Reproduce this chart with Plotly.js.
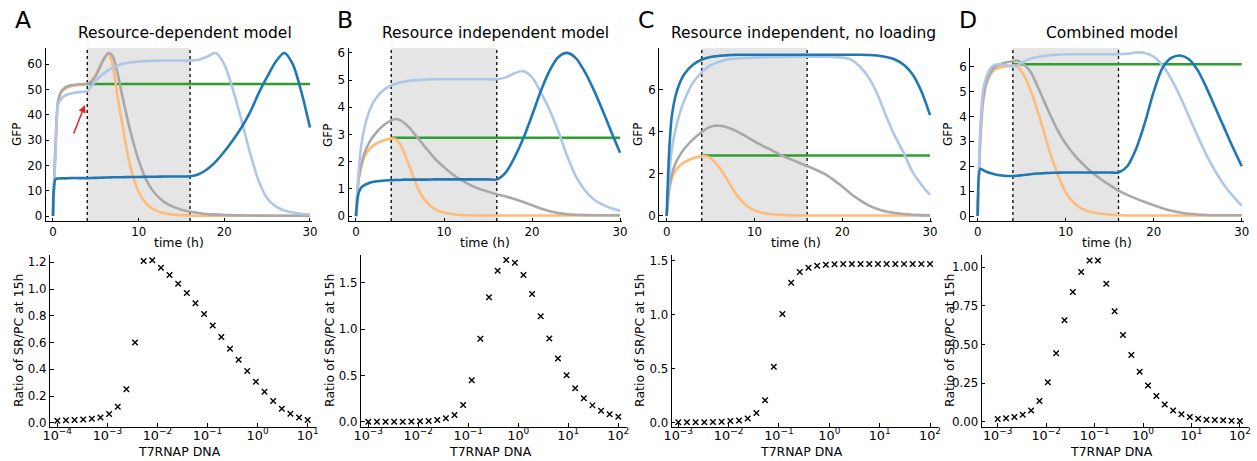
<!DOCTYPE html>
<html><head><meta charset="utf-8">
<script src="https://cdn.plot.ly/plotly-3.0.1.min.js"></script>
<style>html,body{margin:0;padding:0;background:#fff}#chart{width:1257px;height:461px}</style>
</head><body><div id="chart"></div>
<script>
// ---------- time-course data (hours) ----------
const t = [0,0.3,0.6,1,1.5,2,3,4,4.5,5,5.5,6,6.5,7,7.5,8,9,10,11,12,13,14,15,16,17,18,19,20,21,22,23,24,25,26,27,28,29,30];
const tGreen = [4, 30];

// Panel A: Resource-dependent model
const A_orange = [0,28,45,49,50.5,51.2,51.8,52.1,53.5,56,59.5,62.3,64.3,59,48,38,20,9.5,4.5,2.2,1.1,0.6,0.35,0.2,0.1,0.1,0.1,0.1,0.1,0.1,0.1,0.1,0.1,0.1,0.1,0.1,0.1,0.1];
const A_grey = [0,28,45.5,49.5,51,51.6,52.1,52.3,53.3,55.5,59,62.5,64.5,63,57,49,34,22,13.5,8.5,5.5,3.7,2.5,1.7,1.2,0.8,0.6,0.4,0.32,0.25,0.2,0.15,0.12,0.1,0.1,0.1,0.1,0.1];
const A_light = [0,25,44,46.5,47.8,48.4,49,49.3,51.5,53.5,55.2,56.6,57.8,58.7,59.4,60,60.7,61.1,61.3,61.4,61.5,61.5,61.5,61.5,61.8,63,64.5,60,50,38,25,14,7,3.8,2.2,1.4,0.9,0.6];
const A_dark = [0,14.6,14.8,14.9,14.9,15,15,15,15.05,15.1,15.15,15.2,15.25,15.3,15.3,15.35,15.4,15.45,15.5,15.55,15.6,15.6,15.65,15.7,16.5,18.5,21.5,25.5,30,35,41,48.5,55,61,64.5,60,49,35];
const A_green = [52.2, 52.2];

// Panel B: Resource independent model
const B_orange = [0,1.3,1.8,2.2,2.45,2.6,2.77,2.85,2.83,2.65,2.3,1.9,1.45,1.05,0.75,0.52,0.25,0.13,0.07,0.04,0.03,0.02,0.02,0.02,0.02,0.02,0.02,0.02,0.02,0.02,0.02,0.02,0.02,0.02,0.02,0.02,0.02,0.02];
const B_grey = [0,1.4,1.9,2.35,2.7,2.95,3.3,3.52,3.57,3.53,3.42,3.27,3.08,2.88,2.68,2.48,2.1,1.8,1.53,1.32,1.14,1.0,0.9,0.8,0.72,0.63,0.52,0.4,0.28,0.18,0.11,0.07,0.05,0.04,0.03,0.03,0.03,0.03];
const B_light = [0,1.6,2.6,3.3,3.85,4.2,4.6,4.8,4.86,4.91,4.94,4.97,4.99,5.0,5.01,5.02,5.03,5.03,5.03,5.03,5.03,5.03,5.03,5.03,5.1,5.25,5.33,5.1,4.55,3.9,3.1,2.2,1.45,0.95,0.62,0.42,0.29,0.2];
const B_dark = [0,0.85,1.05,1.15,1.22,1.26,1.3,1.32,1.33,1.33,1.34,1.34,1.34,1.34,1.34,1.34,1.35,1.35,1.35,1.35,1.35,1.35,1.35,1.35,1.6,2.15,2.85,3.7,4.6,5.35,5.85,6.0,5.8,5.3,4.65,3.9,3.1,2.33];
const B_green = [2.88, 2.88];

// Panel C: Resource independent, no loading
const C_orange = [0,1.3,1.8,2.15,2.4,2.55,2.75,2.85,2.84,2.75,2.55,2.3,2.0,1.65,1.3,0.98,0.52,0.27,0.14,0.08,0.05,0.03,0.02,0.02,0.02,0.02,0.02,0.02,0.02,0.02,0.02,0.02,0.02,0.02,0.02,0.02,0.02,0.02];
const C_grey = [0,1.3,2.0,2.5,2.9,3.2,3.65,4.0,4.15,4.25,4.3,4.3,4.27,4.2,4.12,4.03,3.8,3.55,3.33,3.12,2.9,2.72,2.55,2.38,2.2,2.0,1.72,1.4,1.05,0.75,0.5,0.33,0.21,0.14,0.09,0.06,0.04,0.03];
const C_light = [0,2.0,3.2,4.1,4.9,5.5,6.35,6.85,7.03,7.17,7.27,7.35,7.4,7.45,7.48,7.5,7.53,7.55,7.56,7.57,7.57,7.58,7.58,7.58,7.58,7.58,7.57,7.55,7.45,7.12,6.6,5.8,4.75,3.8,3.0,2.1,1.5,1.0];
const C_dark = [0,3.2,4.8,5.7,6.35,6.75,7.2,7.45,7.52,7.57,7.6,7.63,7.64,7.66,7.67,7.68,7.68,7.68,7.68,7.68,7.68,7.68,7.68,7.68,7.68,7.68,7.68,7.68,7.68,7.68,7.67,7.64,7.57,7.45,7.2,6.75,5.95,4.8];
const C_green = [2.88, 2.88];

// Panel D: Combined model
const D_orange = [0,3.0,4.5,5.3,5.7,5.9,6.0,6.05,6.0,5.8,5.5,5.06,4.55,4.0,3.4,2.8,1.75,0.95,0.5,0.27,0.15,0.09,0.06,0.04,0.02,0.02,0.02,0.02,0.02,0.02,0.02,0.02,0.02,0.02,0.02,0.02,0.02,0.02];
const D_grey = [0,3.2,4.7,5.4,5.8,6.0,6.15,6.22,6.25,6.15,6.0,5.8,5.45,5.05,4.65,4.25,3.5,2.9,2.45,2.07,1.75,1.48,1.24,1.02,0.85,0.7,0.56,0.43,0.31,0.21,0.14,0.09,0.06,0.04,0.03,0.03,0.03,0.03];
const D_light = [0,3.5,5.0,5.6,5.95,6.08,6.08,6.0,6.05,6.15,6.25,6.32,6.37,6.4,6.43,6.45,6.48,6.5,6.5,6.5,6.5,6.5,6.5,6.5,6.52,6.57,6.55,6.4,6.05,5.5,4.8,4.0,3.2,2.45,1.8,1.25,0.8,0.42];
const D_dark = [0,1.9,1.85,1.78,1.72,1.67,1.62,1.61,1.62,1.64,1.66,1.68,1.7,1.71,1.72,1.73,1.74,1.75,1.75,1.75,1.75,1.75,1.75,1.75,2.0,2.7,3.75,5.0,5.95,6.35,6.45,6.3,5.85,5.15,4.35,3.55,2.75,2.0];
const D_green = [6.1, 6.1];

// ---------- dose-response data ----------
const A_dna = [1e-4,1.4874e-4,2.2122e-4,3.2903e-4,4.8939e-4,7.2790e-4,1.0826e-3,1.6103e-3,2.3950e-3,3.5622e-3,5.2983e-3,7.8805e-3,1.1721e-2,1.7433e-2,2.5929e-2,3.8566e-2,5.7362e-2,8.5317e-2,0.12690,0.18874,0.28072,0.41753,0.62102,0.92367,1.3738,2.0434,3.0392,4.5204,6.7234,10];
const BCD_dna = [1e-3,1.4874e-3,2.2122e-3,3.2903e-3,4.8939e-3,7.2790e-3,1.0826e-2,1.6103e-2,2.3950e-2,3.5622e-2,5.2983e-2,7.8805e-2,0.11721,0.17433,0.25929,0.38566,0.57362,0.85317,1.2690,1.8874,2.8072,4.1753,6.2102,9.2367,13.738,20.434,30.392,45.204,67.234,100];
const A_ratio = [0.015,0.018,0.02,0.025,0.03,0.04,0.065,0.12,0.25,0.60,1.21,1.215,1.16,1.105,1.04,0.97,0.893,0.813,0.728,0.641,0.554,0.472,0.387,0.307,0.232,0.162,0.105,0.067,0.04,0.02];
const B_ratio = [0,0,0,0,0,0.002,0.004,0.008,0.018,0.036,0.072,0.18,0.446,0.896,1.342,1.63,1.745,1.716,1.583,1.378,1.137,0.899,0.683,0.5,0.36,0.252,0.176,0.119,0.079,0.054];
const C_ratio = [0.005,0.005,0.005,0.005,0.006,0.01,0.015,0.02,0.04,0.09,0.207,0.519,1.006,1.296,1.395,1.435,1.454,1.463,1.467,1.469,1.469,1.469,1.469,1.469,1.469,1.469,1.469,1.469,1.469,1.469];
const D_ratio = [0.017,0.022,0.03,0.045,0.073,0.134,0.255,0.443,0.657,0.84,0.97,1.045,1.045,0.894,0.715,0.562,0.432,0.324,0.235,0.166,0.112,0.073,0.048,0.030,0.019,0.013,0.011,0.009,0.006,0.004];

// ---------- text ----------
const panelLetters = ['A','B','C','D'];
const panelTitles = ['Resource-dependent model','Resource independent model','Resource independent, no loading','Combined model'];
const timeTicks = [0,10,20,30];
const topYTicks = [[0,10,20,30,40,50,60],[0,1,2,3,4,5,6],[0,2,4,6],[0,1,2,3,4,5,6]];
const A_logTickVals = [1e-4,1e-3,1e-2,1e-1,1,10];
const A_logTickText = ['10<sup>−4</sup>','10<sup>−3</sup>','10<sup>−2</sup>','10<sup>−1</sup>','10<sup>0</sup>','10<sup>1</sup>'];
const BCD_logTickVals = [1e-3,1e-2,1e-1,1,10,100];
const BCD_logTickText = ['10<sup>−3</sup>','10<sup>−2</sup>','10<sup>−1</sup>','10<sup>0</sup>','10<sup>1</sup>','10<sup>2</sup>'];

// ---------- layout geometry (pixels) ----------
const W = 1257, H = 461;
const fx = p => p / W, fy = p => 1 - p / H;
const FONT = 'DejaVu Sans, sans-serif';
const COL = {orange:'#ffbb78', grey:'#a9a9a9', light:'#aec7e8', dark:'#1f77b4', green:'#2ca02c'};

const topDom = [[45.7,311.7],[348.5,621.8],[659.2,931.8],[970.2,1243.5]];
const topY = [48, 221];
const topYRange = [[-1.98,66.46],[-0.18,6.18],[-0.24,8.0],[-0.2,6.75]];
const botDom = [[50,315],[361,625.6],[671.7,937.4],[981.7,1246.7]];
const botY = [255, 426.5];
const botXRange = [[-4.146,1.146],[-3.146,2.146],[-3.13,2.146],[-3.33,2.14]];
const botYRange = [[-0.028,1.2546],[-0.052,1.799],[-0.035,1.553],[-0.031,1.08]];
const botDtick = [0.2,0.5,0.5,0.25];
const botFmt = ['.1f','.1f','.1f','.2f'];

const tops = [
  [A_orange,A_grey,A_light,A_dark,A_green],
  [B_orange,B_grey,B_light,B_dark,B_green],
  [C_orange,C_grey,C_light,C_dark,C_green],
  [D_orange,D_grey,D_light,D_dark,D_green]
];
const bots = [[A_dna,A_ratio],[BCD_dna,B_ratio],[BCD_dna,C_ratio],[BCD_dna,D_ratio]];

const data = [];
const layout = {
  width: W, height: H, margin: {l:0,r:0,t:0,b:0},
  paper_bgcolor: '#fff', plot_bgcolor: 'rgba(0,0,0,0)',
  showlegend: false, font: {family: FONT, size: 11.5, color: '#000'},
  shapes: [], annotations: []
};

function baseAxis(fs) {
  return {showgrid:false, zeroline:false, showline:true, linecolor:'#000', linewidth:1,
          ticks:'inside', ticklen:3.5, tickwidth:1, tickcolor:'#000',
          tickfont:{family:FONT, size:fs || 11.8, color:'#000'}, fixedrange:true};
}

for (let i = 0; i < 4; i++) {
  const n = i + 1;
  const xa = 'x' + (n === 1 ? '' : n), ya = 'y' + (n === 1 ? '' : n);
  const s = tops[i];
  const order = [['green',4],['orange',0],['grey',1],['light',2],['dark',3]];
  order.forEach(([c, k]) => {
    data.push({x: k === 4 ? tGreen : t, y: s[k], xaxis: xa, yaxis: ya, mode: 'lines',
      line: {color: COL[c], width: 2.6, shape: 'spline', smoothing: 0.8}, hoverinfo: 'skip'});
  });
  layout['xaxis' + (n === 1 ? '' : n)] = Object.assign(baseAxis(), {
    domain: [fx(topDom[i][0]), fx(topDom[i][1])], range: [-0.85, 30.2], anchor: ya,
    tickmode: 'array', tickvals: timeTicks});
  layout['yaxis' + (n === 1 ? '' : n)] = Object.assign(baseAxis(), {
    domain: [fy(topY[1]), fy(topY[0])], range: topYRange[i], anchor: xa,
    tickmode: 'array', tickvals: topYTicks[i]});
  // shaded window and dotted lines
  layout.shapes.push({type:'rect', xref:xa, yref:ya+' domain', x0:4, x1:16, y0:0, y1:1,
    fillcolor:'#e5e5e5', line:{width:0}, layer:'below'});
  [4,16].forEach(v => layout.shapes.push({type:'line', xref:xa, yref:ya+' domain', x0:v, x1:v, y0:0, y1:1,
    line:{color:'#000', width:1.3, dash:'dot'}, layer:'below'}));

  // bottom row
  const m = i + 5;
  const xb = 'x' + m, yb = 'y' + m;
  data.push({x: bots[i][0], y: bots[i][1], xaxis: xb, yaxis: yb, mode: 'markers',
    marker: {symbol:'x-thin', size:5.5, color:'#000', line:{width:1.4, color:'#000'}}, hoverinfo:'skip'});
  layout['xaxis' + m] = Object.assign(baseAxis(12.8), {
    domain: [fx(botDom[i][0]), fx(botDom[i][1])], type:'log', range: botXRange[i], anchor: yb,
    tickmode:'array', tickvals: i === 0 ? A_logTickVals : BCD_logTickVals,
    ticktext: i === 0 ? A_logTickText : BCD_logTickText, ticklabelstandoff: -3});
  layout['yaxis' + m] = Object.assign(baseAxis(), {
    domain: [fy(botY[1]), fy(botY[0])], range: botYRange[i], anchor: xb,
    tick0: 0, dtick: botDtick[i], tickformat: botFmt[i]});

  // texts
  const topCx = (topDom[i][0] + topDom[i][1]) / 2;
  const botCx = (botDom[i][0] + botDom[i][1]) / 2;
  const letterX = [23, 345, 646, 968][i];
  const titleX = [185, 495, 803, 1112][i];
  const ylabX = [17, 328, 638, 948][i];
  const ann = (text, x, y, size, angle) => layout.annotations.push({text, x: fx(x), y: fy(y),
    xref:'paper', yref:'paper', xanchor:'center', yanchor:'middle', showarrow:false,
    textangle: angle || 0, font:{family:FONT, size, color:'#000'}});
  ann(panelLetters[i], letterX, 20, 23.5);
  ann(panelTitles[i], titleX, 33, 15.5);
  ann('GFP', ylabX, 135, 12, -90);
  ann('time (h)', topCx, 243, 12.5);
  ann('Ratio of SR/PC at 15h', ylabX + 1, 340, 12.5, -90);
  ann('T7RNAP DNA', botCx - 3, 451, 12.5);
}

// red arrow in panel A
layout.annotations.push({x: 3.74, y: 43.9, xref:'x', yref:'y', text:'', showarrow:true,
  arrowhead:2, arrowsize:1, arrowwidth:1.5, arrowcolor:'#e8202a', ax:-12, ay:30, standoff:0});

Plotly.newPlot('chart', data, layout, {staticPlot:true, displayModeBar:false});
</script>
</body></html>
